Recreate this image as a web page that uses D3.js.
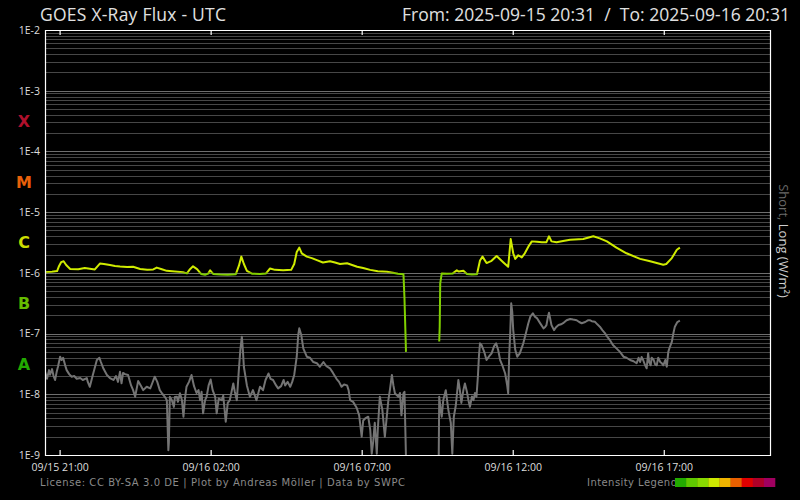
<!DOCTYPE html>
<html><head><meta charset="utf-8">
<script src="https://cdn.jsdelivr.net/npm/d3@7"></script>
<style>body{margin:0;background:#000}svg{display:block}</style>
</head><body><svg id="c" width="800" height="500"></svg>
<script>
const startTime = "2025-09-15T20:31:00Z";
const endTime = "2025-09-16T20:31:00Z";
const titleLeft = "GOES X-Ray Flux - UTC";
const titleRight = "From: 2025-09-15 20:31  /  To: 2025-09-16 20:31";
const footerText = "License: CC BY-SA 3.0 DE | Plot by Andreas Möller | Data by SWPC";
const legendText = "Intensity Legend";
const tickTimes = ["2025-09-15T21:00:00Z","2025-09-16T02:00:00Z","2025-09-16T07:00:00Z","2025-09-16T12:00:00Z","2025-09-16T17:00:00Z"];
const tickLabels = ["09/15 21:00","09/16 02:00","09/16 07:00","09/16 12:00","09/16 17:00"];
const decadeValues = [1e-2,1e-3,1e-4,1e-5,1e-6,1e-7,1e-8,1e-9];
const decadeLabels = ["1E-2","1E-3","1E-4","1E-5","1E-6","1E-7","1E-8","1E-9"];
const classLetters = ["X","M","C","B","A"];
const classMid = [3.16e-4,3.16e-5,3.16e-6,3.16e-7,3.16e-8];
const classColors = ["#b0102c","#e8600a","#ccdd00","#66bb00","#22aa00"];
const legendColors = ["#22aa00","#5fc800","#88d800","#cce800","#f0b400","#e86000","#e00000","#b00028","#a00060"];

// long channel (minutes after start, W/m²); null = data gap
const longMinutes = [0,14,24,28,32,37,42,50,66,79,89,99,109,117,129,139,149,163,175,189,203,215,222,232,242,258,274,282,288,294,302,310,318,324,328,334,348,363,379,385,390,395,401,411,427,439,447,457,473,489,495,500,505,510,520,530,540,552,566,576,586,600,610,620,632,646,661,679,691,701,712,714,717,750,
783,784,785,788,798,810,818,822,831,838,848,858,864,869,877,887,897,910,920,925,930,934,940,947,953,960,967,977,987,996,1001,1006,1016,1029,1043,1069,1089,1102,1116,1135,1155,1182,1202,1228,1234,1245,1255,1261];
const longFlux = [1.02e-6,1.04e-6,1.07e-6,1.3e-6,1.5e-6,1.55e-6,1.35e-6,1.16e-6,1.15e-6,1.2e-6,1.17e-6,1.14e-6,1.42e-6,1.4e-6,1.35e-6,1.3e-6,1.27e-6,1.25e-6,1.26e-6,1.16e-6,1.13e-6,1.14e-6,1.22e-6,1.15e-6,1.08e-6,1.05e-6,1.02e-6,0.98e-6,1.15e-6,1.28e-6,1.15e-6,0.96e-6,0.93e-6,0.97e-6,1.1e-6,0.96e-6,0.94e-6,0.93e-6,0.95e-6,1.3e-6,1.85e-6,1.4e-6,1.08e-6,0.97e-6,0.96e-6,0.98e-6,1.18e-6,1.12e-6,1.1e-6,1.12e-6,1.4e-6,2.2e-6,2.6e-6,2.1e-6,1.85e-6,1.75e-6,1.62e-6,1.48e-6,1.55e-6,1.48e-6,1.4e-6,1.44e-6,1.35e-6,1.26e-6,1.2e-6,1.12e-6,1.06e-6,1.04e-6,1.0e-6,0.97e-6,0.95e-6,3.8e-7,5.0e-8,null,
7.4e-8,1.3e-7,6.7e-7,0.98e-6,0.97e-6,0.98e-6,1.1e-6,1.05e-6,1.08e-6,0.96e-6,0.94e-6,0.95e-6,1.6e-6,1.85e-6,1.45e-6,1.58e-6,1.9e-6,1.5e-6,1.26e-6,3.6e-6,2.1e-6,1.7e-6,1.95e-6,1.8e-6,2.1e-6,2.7e-6,3.3e-6,3.25e-6,3.2e-6,3.2e-6,4.0e-6,3.3e-6,3.2e-6,3.35e-6,3.5e-6,3.6e-6,4.0e-6,3.7e-6,3.3e-6,2.6e-6,2.1e-6,1.7e-6,1.55e-6,1.36e-6,1.4e-6,1.75e-6,2.4e-6,2.6e-6];

// short channel
const shortMinutes = [0,4,8,10,14,17,20,23,26,30,33,36,40,43,48,53,58,63,70,75,83,85,89,95,103,108,111,116,123,129,136,141,145,149,152,155,159,165,171,175,179,185,191,195,202,209,213,218,223,228,233,238,242,245,246,248,252,256,258,262,264,268,272,275,278,281,286,291,296,301,305,308,311,314,318,321,325,329,333,338,341,345,351,354,359,363,367,374,377,381,383,385,388,391,393,395,401,407,413,420,427,433,438,444,448,453,459,463,469,474,477,482,487,491,495,500,503,505,509,513,520,526,533,540,546,553,559,566,572,579,584,589,594,600,603,606,612,619,624,629,632,636,642,646,649,652,655,659,661,665,670,675,682,685,689,692,695,699,702,705,708,712,714,717,750,
782,783,786,788,791,796,801,806,809,812,816,821,824,827,831,834,838,841,844,848,851,854,857,860,862,864,867,872,877,882,887,892,896,900,904,909,914,918,920,922,924,926,928,930,934,938,943,950,955,960,964,969,973,977,983,990,993,996,999,1001,1004,1006,1011,1015,1020,1025,1029,1036,1043,1049,1056,1061,1066,1073,1079,1082,1086,1092,1097,1102,1107,1112,1117,1122,1128,1135,1142,1149,1155,1162,1169,1175,1179,1182,1185,1188,1192,1195,1198,1200,1203,1205,1209,1212,1215,1218,1222,1225,1228,1232,1235,1238,1241,1245,1248,1251,1256,1261];
const shortFlux = [2.35e-8,1.8e-8,2.5e-8,2.1e-8,2.6e-8,2.0e-8,1.72e-8,2.3e-8,2.9e-8,4.16e-8,3.67e-8,4.0e-8,3.0e-8,2.5e-8,2.15e-8,1.95e-8,2.0e-8,1.8e-8,1.85e-8,1.72e-8,1.85e-8,1.6e-8,1.33e-8,2.08e-8,3.67e-8,4.0e-8,3.4e-8,2.65e-8,2.08e-8,1.85e-8,1.72e-8,2.0e-8,1.6e-8,2.35e-8,1.52e-8,2.25e-8,2.15e-8,2.08e-8,1.4e-8,1.17e-8,9.1e-9,1.65e-8,1.36e-8,1.17e-8,1.33e-8,1.25e-8,1.52e-8,1.95e-8,1.6e-8,1.17e-8,1.02e-8,9.1e-9,8.0e-9,1.2e-9,1.6e-9,9.1e-9,8e-9,6.2e-9,9e-9,9.1e-9,7.5e-9,1.04e-8,8e-9,4.27e-9,8.5e-9,1.33e-8,1.6e-8,2.08e-8,1.36e-8,1.05e-8,1.17e-8,8e-9,1.1e-8,4.85e-9,8e-9,9.1e-9,1.4e-8,1.75e-8,1.17e-8,9.1e-9,4.85e-9,8.5e-9,8e-9,9.5e-9,3.53e-9,7.2e-9,8e-9,1.51e-8,1.1e-8,8e-9,1.4e-8,2.5e-8,5.4e-8,8.9e-8,5.4e-8,2.84e-8,1.4e-8,9.1e-9,1.17e-8,8e-9,1.33e-8,1.17e-8,1.72e-8,2.2e-8,1.8e-8,1.72e-8,1.4e-8,1.25e-8,1.36e-8,1.72e-8,1.4e-8,1.6e-8,1.33e-8,1.6e-8,2.08e-8,4.16e-8,9.5e-8,1.22e-7,9.5e-8,5.7e-8,4.16e-8,4.0e-8,3.4e-8,3.25e-8,2.84e-8,3.4e-8,2.9e-8,2.68e-8,2.25e-8,1.8e-8,1.6e-8,1.33e-8,1.45e-8,1.4e-8,1.17e-8,8e-9,7.5e-9,6e-9,4.5e-9,2.0e-9,3.7e-9,4.0e-9,4.27e-9,2.6e-9,1.05e-9,1.7e-9,3.4e-9,1.05e-9,2.6e-9,9.1e-9,5.6e-9,2.0e-9,8e-9,1.17e-8,2.08e-8,1.4e-8,1.04e-8,9.6e-9,9.1e-9,1.05e-8,4.5e-9,1.04e-8,1.1e-8,9e-10,null,
9e-10,9.1e-9,5.6e-9,4.27e-9,8e-9,1.17e-8,5.6e-9,3.4e-9,1.05e-9,4.27e-9,6.6e-9,1.72e-8,1.17e-8,7.2e-9,1.17e-8,1.51e-8,1.1e-8,8e-9,6.2e-9,9.2e-9,8e-9,1.05e-8,9.1e-9,2.08e-8,4.4e-8,6.9e-8,6.5e-8,5.1e-8,3.67e-8,4.2e-8,4.73e-8,6.2e-8,6.9e-8,5.4e-8,3.67e-8,2.9e-8,2.2e-8,1.4e-8,1.04e-8,4.4e-8,1e-7,3.15e-7,2.3e-7,1.14e-7,5.4e-8,4.16e-8,4.73e-8,6.9e-8,1e-7,1.48e-7,1.9e-7,2.16e-7,1.9e-7,1.8e-7,1.5e-7,1.22e-7,1.27e-7,1.38e-7,1.9e-7,2.2e-7,1.66e-7,1.38e-7,1.14e-7,1.27e-7,1.38e-7,1.42e-7,1.48e-7,1.66e-7,1.74e-7,1.7e-7,1.66e-7,1.55e-7,1.48e-7,1.55e-7,1.66e-7,1.66e-7,1.6e-7,1.57e-7,1.42e-7,1.30e-7,1.14e-7,1.02e-7,8.8e-8,7.83e-8,6.5e-8,5.7e-8,5.0e-8,4.16e-8,4.0e-8,3.67e-8,3.5e-8,3.24e-8,4.0e-8,3.4e-8,4.1e-8,3.67e-8,3.0e-8,2.68e-8,4.73e-8,3.4e-8,3.0e-8,4.0e-8,3.67e-8,3.1e-8,3.0e-8,4.0e-8,3.4e-8,3.25e-8,3.0e-8,3.67e-8,2.84e-8,5.0e-8,6.0e-8,7.3e-8,1.0e-7,1.30e-7,1.55e-7,1.63e-7];

const svg = d3.select("#c");
const W = 800, H = 500;
const L = 45, R = 770, T = 30, B = 455;
svg.append("rect").attr("width", W).attr("height", H).attr("fill", "#000");

const t0 = new Date(startTime);
const x = d3.scaleUtc().domain([t0, new Date(endTime)]).range([L, R]);
const y = d3.scaleLog().domain([1e-9, 1e-2]).range([B, T]);
const toDate = m => new Date(t0.getTime() + m * 60000);

// grid lines
const grid = svg.append("g");
for (let e = -9; e < -2; e++) {
  for (let k = 1; k <= 9; k++) {
    const v = k * Math.pow(10, e);
    grid.append("line").attr("x1", L).attr("x2", R)
      .attr("y1", Math.round(y(v)) + 0.5).attr("y2", Math.round(y(v)) + 0.5)
      .attr("stroke", k === 1 ? "#6e6e6e" : "#474747").attr("stroke-width", 1);
  }
}

svg.append("clipPath").attr("id", "plot").append("rect")
  .attr("x", L).attr("y", T).attr("width", R - L).attr("height", B - T);
svg.append("clipPath").attr("id", "above").append("rect")
  .attr("x", L).attr("y", T).attr("width", R - L).attr("height", y(1e-6) - T);
svg.append("clipPath").attr("id", "below").append("rect")
  .attr("x", L).attr("y", y(1e-6)).attr("width", R - L).attr("height", B - y(1e-6));

const shortData = shortMinutes.map((m, i) => ({t: toDate(m), v: shortFlux[i]}));
const longData = longMinutes.map((m, i) => ({t: toDate(m), v: longFlux[i]}));
const line = d3.line().defined(d => d.v !== null)
  .x(d => x(d.t)).y(d => y(d.v));

const pg = svg.append("g").attr("clip-path", "url(#plot)");
pg.append("path").datum(shortData).attr("d", line)
  .attr("fill", "none").attr("stroke", "#747474").attr("stroke-width", 2)
  .attr("stroke-linejoin", "round");
const ag = svg.append("g").attr("clip-path", "url(#above)");
ag.append("path").datum(longData).attr("d", line)
  .attr("fill", "none").attr("stroke", "#d0ec00").attr("stroke-width", 2)
  .attr("stroke-linejoin", "round");
const bg = svg.append("g").attr("clip-path", "url(#below)");
bg.append("path").datum(longData).attr("d", line)
  .attr("fill", "none").attr("stroke", "#80d000").attr("stroke-width", 2)
  .attr("stroke-linejoin", "round");

// frame
svg.append("path").attr("d", `M${L+0.5},${T+0.5}H${R+0.5}V${B+0.5}H${L+0.5}Z`)
  .attr("fill", "none").attr("stroke", "#fff").attr("stroke-width", 1.2);

// x axis ticks (bottom, inward) and top ticks
const tickDates = tickTimes.map(s => new Date(s));
const xAxis = d3.axisBottom(x).tickValues(tickDates).tickSizeInner(-5).tickSizeOuter(0)
  .tickPadding(10).tickFormat((d, i) => tickLabels[i]);
const gx = svg.append("g").attr("transform", `translate(0,${B})`).call(xAxis);
gx.select(".domain").remove();
gx.selectAll(".tick line").attr("stroke", "#fff").attr("stroke-width", 1.2);
gx.selectAll(".tick text").attr("fill", "#ddd").attr("font-family", "Open Sans, sans-serif")
  .attr("font-size", 10.5).attr("dy", "0.55em");
const xTop = d3.axisTop(x).tickValues(tickDates).tickSizeInner(-5).tickSizeOuter(0).tickFormat("");
const gxt = svg.append("g").attr("transform", `translate(0,${T})`).call(xTop);
gxt.select(".domain").remove();
gxt.selectAll(".tick line").attr("stroke", "#fff").attr("stroke-width", 1.2);

// y labels
const yAxis = d3.axisLeft(y).tickValues(decadeValues).tickSize(0).tickPadding(5)
  .tickFormat((d, i) => decadeLabels[i]);
const gy = svg.append("g").attr("transform", `translate(${L},0)`).call(yAxis);
gy.select(".domain").remove();
gy.selectAll(".tick text").attr("fill", "#ddd").attr("font-family", "Open Sans, sans-serif")
  .attr("font-size", 10.5);

// class letters
classLetters.forEach((c, i) => {
  svg.append("text").attr("x", 24).attr("y", y(classMid[i])).attr("dy", "0.36em")
    .attr("text-anchor", "middle").attr("font-family", "DejaVu Sans, sans-serif")
    .attr("font-weight", "bold").attr("font-size", 16).attr("fill", classColors[i]).text(c);
});

// titles
svg.append("text").attr("x", 40).attr("y", 21).attr("fill", "#e0e0e0")
  .attr("font-family", "Open Sans, sans-serif").attr("font-size", 17.5)
  .attr("textLength", 186).text(titleLeft);
svg.append("text").attr("x", 402).attr("y", 21).attr("fill", "#e0e0e0")
  .attr("font-family", "Open Sans, sans-serif")
  .attr("font-size", 17.5).attr("textLength", 388).attr("xml:space", "preserve")
  .style("white-space", "pre").text(titleRight);

// right label
const rl = svg.append("text").attr("transform", "translate(779,241) rotate(90)")
  .attr("text-anchor", "middle").attr("font-family", "Open Sans, sans-serif").attr("font-size", 13);
rl.append("tspan").attr("fill", "#6a6a6a").text("Short, ");
rl.append("tspan").attr("fill", "#cfcfcf").text("Long (W/m²)");

// footer
svg.append("text").attr("x", 40).attr("y", 486).attr("fill", "#8a8a8a")
  .attr("font-family", "DejaVu Sans, sans-serif").attr("font-size", 10)
  .attr("textLength", 365).text(footerText);
svg.append("text").attr("x", 587).attr("y", 486).attr("fill", "#8a8a8a")
  .attr("font-family", "DejaVu Sans, sans-serif").attr("font-size", 10)
  .attr("textLength", 90).text(legendText);
const lw = 100 / legendColors.length;
legendColors.forEach((c, i) => {
  svg.append("rect").attr("x", 675 + i * lw).attr("y", 478).attr("width", lw + 0.3).attr("height", 9).attr("fill", c);
});
</script></body></html>
